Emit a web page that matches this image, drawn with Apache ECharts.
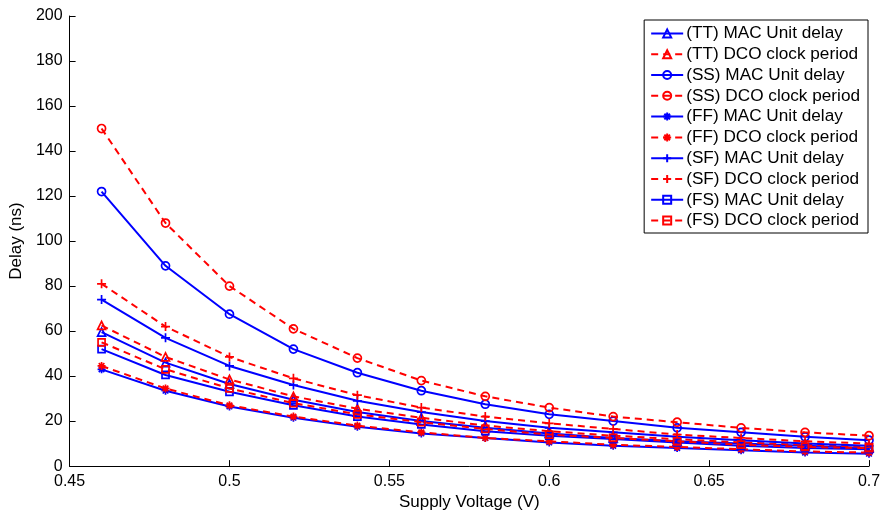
<!DOCTYPE html>
<html><head><meta charset="utf-8">
<script src="https://cdn.jsdelivr.net/npm/echarts@6/dist/echarts.min.js"></script>
<style>html,body{margin:0;padding:0;background:#fff}#c{width:886px;height:516px}</style>
</head><body><div id="c"></div>
<script>
var voltage = [0.46,0.48,0.50,0.52,0.54,0.56,0.58,0.60,0.62,0.64,0.66,0.68,0.70];
var ttMac = [59.5,46,36.5,29.5,24,20,17,14.5,12.5,11,10,9,8];
var ttDco = [62.5,48.5,38.5,31,25.5,21.5,18,15.5,13.5,12,10.5,9.5,8.5];
var ssMac = [122,89,67.5,52,41.5,33.5,27.5,23,20,17,15,13,11.5];
var ssDco = [150,108,80,61,48,38,31,26,22,19.5,17,15,13.5];
var ffMac = [43,33.5,26.5,21.5,17.5,14.5,12.5,10.5,9,8,7,6,5.5];
var ffDco = [44.5,34.5,27,22,18,15,12.5,11,9.5,8.5,7.5,6.5,6];
var sfMac = [74,57,44.5,36,29,24,20,17,15,13,11.5,10,9];
var sfDco = [81,62,48.5,39,31.5,26,22,19,16.5,14,12.5,11,10];
var fsMac = [52,40.5,33,27,22,18.5,15.5,13.5,12,10.5,9,8,7.5];
var fsDco = [55,43,34.5,28,23,19.5,16.5,14,12.5,11,9.5,8.5,8];
var seriesNames = ['(TT) MAC Unit delay','(TT) DCO clock period','(SS) MAC Unit delay','(SS) DCO clock period','(FF) MAC Unit delay','(FF) DCO clock period','(SF) MAC Unit delay','(SF) DCO clock period','(FS) MAC Unit delay','(FS) DCO clock period'];
var seriesData = [ttMac,ttDco,ssMac,ssDco,ffMac,ffDco,sfMac,sfDco,fsMac,fsDco];

var PLUS = 'path://M0,-5L0,5M-5,0L5,0';
var STAR = 'path://M0,-5L0,5M-5,0L5,0M-3.5,-3.5L3.5,3.5M-3.5,3.5L3.5,-3.5';
var symbols = ['triangle','triangle','circle','circle',STAR,STAR,PLUS,PLUS,'rect','rect'];
var sizes = [8,8,8,8,8,8,9,9,7,7];
var FONT = '"Liberation Sans", Arial, Helvetica, sans-serif';

var series = seriesNames.map(function(n,i){
  var isDco = i % 2 === 1;
  var col = isDco ? '#ff0000' : '#0000ff';
  return {
    name: n, type: 'line',
    data: voltage.map(function(v,k){ return [v, seriesData[i][k]]; }),
    smooth: false,
    symbol: symbols[i], symbolSize: sizes[i], symbolKeepAspect: true,
    showAllSymbol: true,
    lineStyle: {color: col, width: 2, type: isDco ? [7,5] : 'solid'},
    itemStyle: {color: 'none', borderColor: col, borderWidth: 1.7},
    emphasis: {disabled: true},
    animation: false,
    z: 2 + i
  };
});

var chart = echarts.init(document.getElementById('c'), null, {renderer: 'canvas'});
chart.setOption({
  backgroundColor: '#fff',
  animation: false,
  grid: {left: 65, right: 17, top: 16, bottom: 47, containLabel: false},
  legend: {
    orient: 'vertical', right: 18, top: 20,
    backgroundColor: '#fff', borderColor: '#000', borderWidth: 1,
    padding: [3, 8, 2, 6], itemGap: 0, itemWidth: 32, itemHeight: 10,
    textStyle: {fontFamily: FONT, fontSize: 17.2, color: '#000', lineHeight: 20.8, padding: [0,0,0,-2]},
    data: seriesNames
  },
  xAxis: {
    type: 'value', min: 0.45, max: 0.7, interval: 0.05,
    name: 'Supply Voltage (V)', nameLocation: 'middle', nameGap: 27,
    nameTextStyle: {fontFamily: FONT, fontSize: 17, color: '#000'},
    axisLine: {lineStyle: {color: '#000', width: 1}},
    axisTick: {inside: true, length: 6, lineStyle: {color: '#000'}},
    axisLabel: {fontFamily: FONT, fontSize: 16, color: '#000', margin: 7},
    splitLine: {show: false}
  },
  yAxis: {
    type: 'value', min: 0, max: 200, interval: 20,
    name: 'Delay (ns)', nameLocation: 'middle', nameGap: 36,
    nameTextStyle: {fontFamily: FONT, fontSize: 17, color: '#000'},
    axisLine: {show: true, lineStyle: {color: '#000', width: 1}},
    axisTick: {show: true, inside: true, length: 6, lineStyle: {color: '#000'}},
    axisLabel: {fontFamily: FONT, fontSize: 16, color: '#000', margin: 7},
    splitLine: {show: false}
  },
  series: series
});
</script></body></html>
